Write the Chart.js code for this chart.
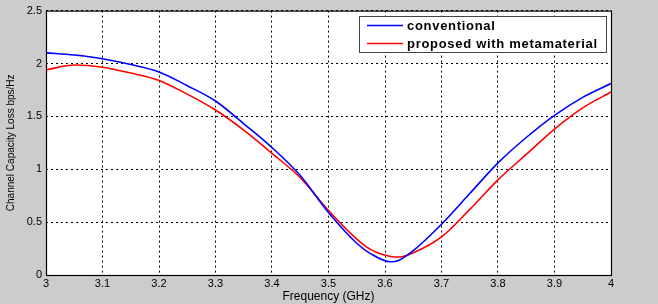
<!DOCTYPE html>
<html>
<head>
<meta charset="utf-8">
<script src="https://cdn.jsdelivr.net/npm/chart.js@4/dist/chart.umd.min.js"></script>
<style>
html,body{margin:0;padding:0;background:#cccccc;}
#wrap{width:658px;height:304px;position:relative;}
</style>
</head>
<body>
<div id="wrap"><canvas id="c" width="658" height="304"></canvas></div>
<script>
const freq =         [3.00, 3.05, 3.10, 3.15, 3.20, 3.25, 3.30, 3.35, 3.40, 3.45, 3.50, 3.55, 3.575, 3.61, 3.625, 3.65, 3.70, 3.75, 3.80, 3.85, 3.90, 3.95, 4.00];
const conventional = [2.10, 2.08, 2.045, 1.99, 1.92, 1.79, 1.645, 1.43, 1.205, 0.94, 0.59, 0.30, 0.20, 0.125, 0.14, 0.23, 0.48, 0.77, 1.06, 1.30, 1.51, 1.68, 1.81];
const proposed =     [1.94, 1.985, 1.965, 1.91, 1.84, 1.71, 1.56, 1.37, 1.15, 0.92, 0.61, 0.34, 0.24, 0.175, 0.17, 0.21, 0.36, 0.62, 0.90, 1.14, 1.38, 1.58, 1.73];
const seriesLabels = ['conventional', 'proposed with metamaterial'];
const xTicks = [3, 3.1, 3.2, 3.3, 3.4, 3.5, 3.6, 3.7, 3.8, 3.9, 4];
const yTicks = [0, 0.5, 1, 1.5, 2, 2.5];

const toPts = arr => freq.map((f, i) => ({x: f, y: arr[i]}));

const areaPlugin = {
  id: 'area',
  beforeDraw(chart) {
    const {ctx, chartArea: a} = chart;
    ctx.save();
    ctx.fillStyle = '#ffffff';
    ctx.fillRect(a.left, a.top, a.right - a.left, a.bottom - a.top);
    ctx.restore();
  },
  afterDraw(chart) {
    const {ctx, chartArea: a} = chart;
    ctx.save();
    ctx.strokeStyle = '#000';
    ctx.lineWidth = 1.2;
    ctx.strokeRect(a.left + 0.5, a.top + 0.5, a.right - a.left, a.bottom - a.top);
    // legend box
    const bx = 359, by = 16, bw = 247, bh = 36;
    ctx.fillStyle = '#fff';
    ctx.fillRect(bx, by, bw, bh);
    ctx.strokeStyle = '#444';
    ctx.lineWidth = 1;
    ctx.strokeRect(bx + 0.5, by + 0.5, bw, bh);
    const ds = chart.data.datasets;
    const rows = [25, 43];
    ctx.font = 'bold 13px "Liberation Sans", Arial, sans-serif';
    try { ctx.letterSpacing = '0.7px'; } catch (e) {}
    ctx.textBaseline = 'middle';
    ctx.textAlign = 'left';
    ds.forEach((d, i) => {
      ctx.strokeStyle = d.borderColor;
      ctx.lineWidth = 1.5;
      ctx.beginPath();
      ctx.moveTo(367, rows[i] + 0.5);
      ctx.lineTo(403, rows[i] + 0.5);
      ctx.stroke();
      ctx.fillStyle = '#000';
      ctx.fillText(d.label, 407, rows[i] + 1);
    });
    ctx.restore();
  }
};

new Chart(document.getElementById('c'), {
  type: 'line',
  data: {
    datasets: [
      {label: seriesLabels[0], data: toPts(conventional), borderColor: 'rgb(0,0,255)', borderWidth: 1.6, pointRadius: 0, tension: 0.4, cubicInterpolationMode: 'monotone', fill: false},
      {label: seriesLabels[1], data: toPts(proposed), borderColor: 'rgb(255,0,0)', borderWidth: 1.6, pointRadius: 0, tension: 0.4, cubicInterpolationMode: 'monotone', fill: false}
    ]
  },
  options: {
    responsive: false,
    animation: false,
    layout: {padding: {top: 10, right: 47, left: 0, bottom: 0}},
    plugins: {legend: {display: false}, tooltip: {enabled: false}},
    scales: {
      x: {
        type: 'linear', min: 3, max: 4,
        afterBuildTicks: s => { s.ticks = xTicks.map(v => ({value: v})); },
        afterFit: s => { s.height = 29; },
        grid: {color: '#000', lineWidth: 1, drawTicks: false},
        border: {display: false, dash: [2, 3]},
        ticks: {color: '#000', padding: 2, font: {family: '"Liberation Sans", Arial, sans-serif', size: 11}, maxRotation: 0, callback: v => String(v)},
        title: {display: true, text: 'Frequency (GHz)', color: '#000', font: {family: '"Liberation Sans", Arial, sans-serif', size: 12}, padding: {top: 0, bottom: 0}}
      },
      y: {
        type: 'linear', min: 0, max: 2.5,
        afterBuildTicks: s => { s.ticks = yTicks.map(v => ({value: v})); },
        afterFit: s => { s.width = 46; },
        grid: {color: '#000', lineWidth: 1, drawTicks: false},
        border: {display: false, dash: [2, 3]},
        ticks: {color: '#000', padding: 4, font: {family: '"Liberation Sans", Arial, sans-serif', size: 11}, callback: v => String(v)},
        title: {display: true, text: 'Channel Capacity Loss bps/Hz', color: '#000', font: {family: '"Liberation Sans", Arial, sans-serif', size: 10}, padding: {top: 5, bottom: 0}}
      }
    }
  },
  plugins: [areaPlugin]
});
</script>
</body>
</html>
